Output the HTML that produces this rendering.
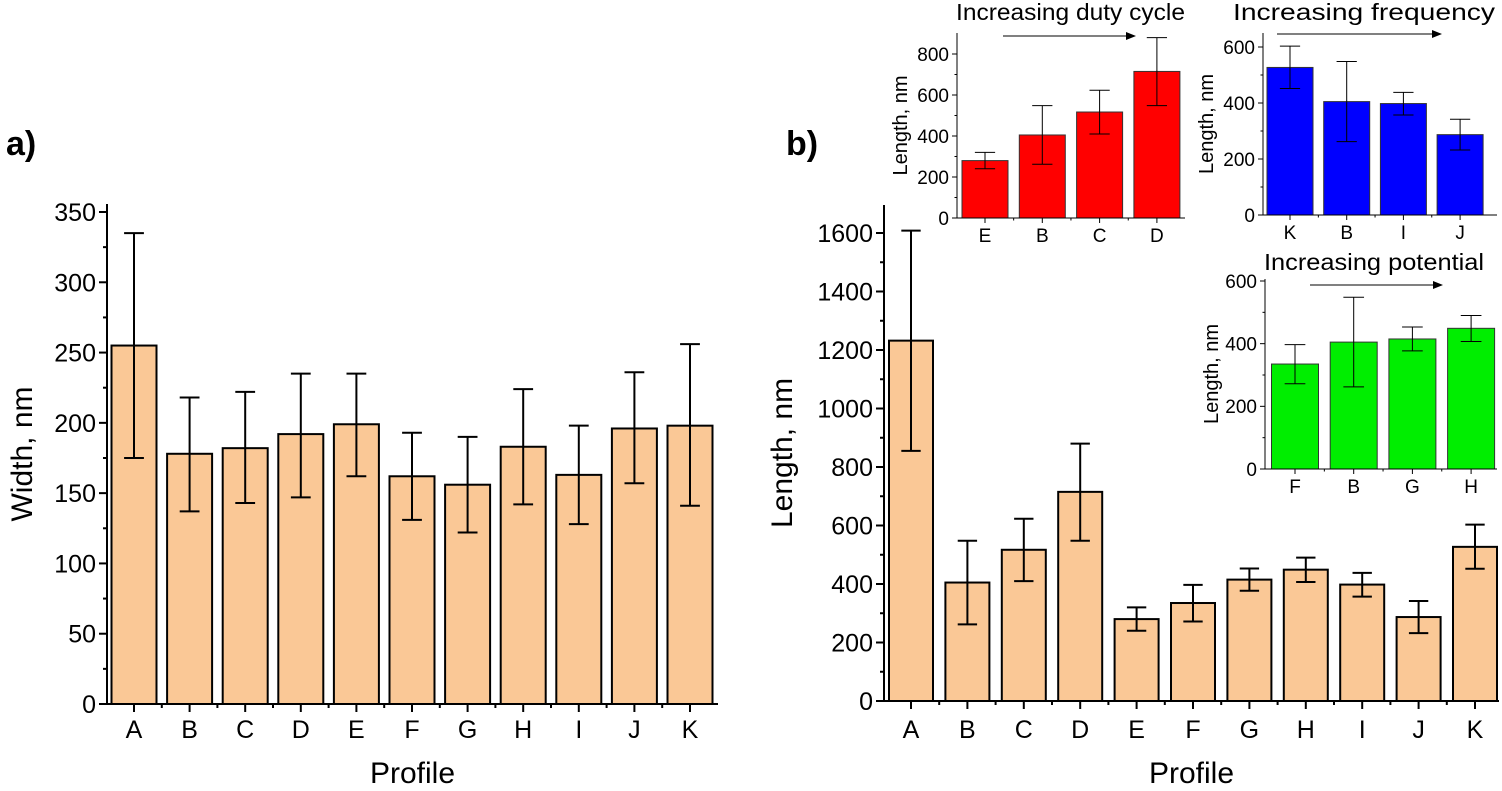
<!DOCTYPE html>
<html><head><meta charset="utf-8"><style>
body{margin:0;background:#fff}
svg{display:block}
text{font-family:"Liberation Sans",Arial,sans-serif;fill:#000}
</style></head><body>
<svg id="s" width="1502" height="791" xmlns="http://www.w3.org/2000/svg"></svg>
<script>
const s=document.getElementById('s');let h='';
function chart(o){
 const {x0,x1,y0,ytop,max,step,minor,cats,vals,errs,fill,bw,sp,c0,fs,sw,tl,ylab,ylx,lfs,xlab,bs,lb}=o;
 const k=(y0-ytop)/max;const Y=v=>y0-v*k;
 for(let i=0;i<cats.length;i++){const cx=c0+i*sp,v=vals[i];
  h+=`<rect x="${cx-bw/2}" y="${Y(v)}" width="${bw}" height="${y0-Y(v)}" fill="${fill}" stroke="${bs||'#000'}" stroke-width="${sw}"/>`;
  const [lo,hi]=errs[i];const ew=bw*0.22;
  h+=`<path d="M${cx} ${Y(lo)}V${Y(hi)}M${cx-ew} ${Y(lo)}h${2*ew}M${cx-ew} ${Y(hi)}h${2*ew}" stroke="#000" stroke-width="${sw}" fill="none"/>`;
  h+=`<path d="M${cx} ${y0}v${tl}" stroke="#000" stroke-width="${sw}"/>`;
  if(i<cats.length-1)h+=`<path d="M${cx+sp/2} ${y0}v${tl/2}" stroke="#000" stroke-width="${sw}"/>`;
  h+=`<text x="${cx}" y="${lb||y0+tl+fs}" font-size="${fs}" text-anchor="middle">${cats[i]}</text>`;}
 h+=`<path d="M${x0} ${o.axTop}V${y0}H${x1}" stroke="#000" stroke-width="${sw}" fill="none"/>`;
 for(let v=0;v<=max+1e-6;v+=minor){const maj=Math.abs(v/step-Math.round(v/step))<1e-6;
  h+=`<path d="M${x0} ${Y(v)}h${-(maj?tl:tl/2)}" stroke="#000" stroke-width="${sw}"/>`;
  if(maj)h+=`<text x="${x0-tl-3}" y="${Y(v)+fs*0.36}" font-size="${fs}" text-anchor="end">${Math.round(v)}</text>`;}
 const ym=(y0+o.axTop)/2;
 h+=`<text transform="translate(${ylx},${ym}) rotate(-90)" font-size="${lfs}" text-anchor="middle">${ylab}</text>`;
 if(xlab)h+=`<text x="${(x0+x1)/2}" y="${xlab}" font-size="${lfs}" text-anchor="middle">Profile</text>`;
}
chart({x0:107,x1:718,y0:704,ytop:212,max:350,step:50,minor:25,axTop:204,cats:'ABCDEFGHIJK'.split(''),
 vals:[255,178,182,192,199,162,156,183,163,196,198],
 errs:[[175,335],[137,218],[143,222],[147,235],[162,235],[131,193],[122,190],[142,224],[128,198],[157,236],[141,256]],
 fill:'#fac896',bw:45,sp:55.6,c0:134,fs:25,sw:2,tl:8,lb:738,ylab:'Width, nm',ylx:32,lfs:30,xlab:783});
chart({x0:884,x1:1499,y0:701,ytop:233,max:1600,step:200,minor:100,axTop:205,cats:'ABCDEFGHIJK'.split(''),
 vals:[1232,405,517,715,280,335,415,449,398,287,527],
 errs:[[855,1608],[262,548],[410,623],[548,880],[240,320],[272,397],[377,453],[407,490],[357,438],[232,342],[452,603]],
 fill:'#fac896',bw:44,sp:56.4,c0:911,fs:25,sw:2,tl:8,lb:738,ylab:'Length, nm',ylx:792,lfs:30,xlab:783});
chart({x0:957,x1:1185,y0:218,ytop:54,max:800,step:200,minor:100,axTop:33,cats:['E','B','C','D'],
 vals:[280,405,517,715],errs:[[240,320],[262,548],[410,623],[548,880]],
 fill:'#ff0000',bs:'#333',bw:46,sp:57.3,c0:985,fs:19,sw:1,tl:5,ylab:'Length, nm',ylx:907,lfs:20});
chart({x0:1263,x1:1497,y0:215,ytop:47,max:600,step:200,minor:100,axTop:33,cats:['K','B','I','J'],
 vals:[527,405,398,287],errs:[[452,603],[262,548],[357,438],[232,342]],
 fill:'#0000ff',bs:'#333',bw:46,sp:56.7,c0:1290,fs:19,sw:1,tl:5,ylab:'Length, nm',ylx:1213,lfs:20});
chart({x0:1265,x1:1497,y0:469,ytop:281,max:600,step:200,minor:100,axTop:279,cats:['F','B','G','H'],
 vals:[335,405,415,449],errs:[[272,397],[262,548],[377,453],[407,490]],
 fill:'#00ee00',bs:'#333',bw:47,sp:58.7,c0:1295,fs:19,sw:1,tl:5,ylab:'Length, nm',ylx:1218,lfs:20});
function arrow(x1,x2,y){h+=`<path d="M${x1} ${y}H${x2-8}" stroke="#000" stroke-width="1"/><path d="M${x2} ${y}l-10 -4v8z" fill="#000"/>`;}
arrow(1003,1136,36);arrow(1277,1442,34);arrow(1310,1443,285);
h+=`<text x="956" y="20" font-size="23" textLength="229" lengthAdjust="spacingAndGlyphs">Increasing duty cycle</text>`;
h+=`<text x="1233" y="20" font-size="23" textLength="262" lengthAdjust="spacingAndGlyphs">Increasing frequency</text>`;
h+=`<text x="1264" y="270" font-size="23" textLength="220" lengthAdjust="spacingAndGlyphs">Increasing potential</text>`;
h+=`<text x="6" y="155" font-size="34" font-weight="bold">a)</text>`;
h+=`<text x="786" y="155" font-size="34" font-weight="bold">b)</text>`;
s.innerHTML=h;
</script>
</body></html>
